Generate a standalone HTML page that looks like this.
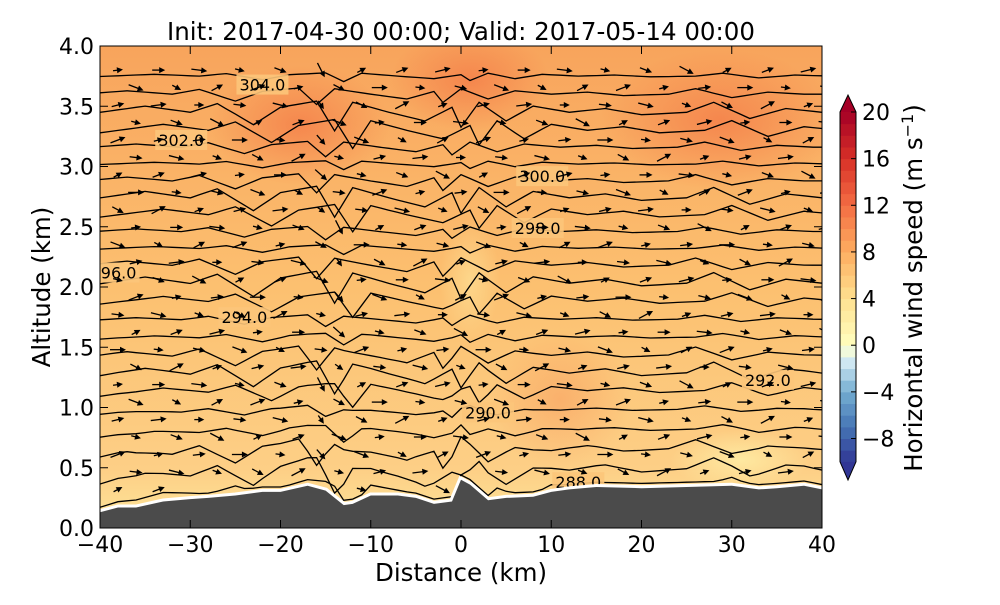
<!DOCTYPE html>
<html><head><meta charset="utf-8"><style>
body{margin:0;background:#fff;font-family:"Liberation Sans","DejaVu Sans",sans-serif}
svg text{font-family:"DejaVu Sans","Liberation Sans",sans-serif}
</style></head><body>
<svg id="c" width="1000" height="600" xmlns="http://www.w3.org/2000/svg">
<defs>
<clipPath id="pc"><rect x="100" y="46" width="722" height="482"/></clipPath>
<linearGradient id="bg" x1="0" y1="1" x2="0" y2="0">
<stop offset="0" stop-color="#fde69a"/><stop offset="0.12" stop-color="#fdcf86"/><stop offset="0.5" stop-color="#fcc070"/><stop offset="1" stop-color="#f8a45c"/>
</linearGradient>
<radialGradient id="blob"><stop offset="0" stop-color="#f4804a" stop-opacity="0.85"/><stop offset="1" stop-color="#f4804a" stop-opacity="0"/></radialGradient>
<radialGradient id="lblob"><stop offset="0" stop-color="#fef0a8" stop-opacity="0.8"/><stop offset="1" stop-color="#fef0a8" stop-opacity="0"/></radialGradient>
</defs>
<text x="461" y="40" font-size="24.5" text-anchor="middle">Init: 2017-04-30 00:00; Valid: 2017-05-14 00:00</text>
<g clip-path="url(#pc)" id="plot">
<rect x="100" y="46" width="722" height="482" fill="url(#bg)"/>
<ellipse cx="300" cy="125" rx="90" ry="60" fill="url(#blob)"/>
<ellipse cx="720" cy="120" rx="120" ry="70" fill="url(#blob)"/>
<ellipse cx="470" cy="80" rx="80" ry="50" fill="url(#blob)"/>
<ellipse cx="560" cy="400" rx="70" ry="70" fill="url(#blob)" opacity="0.4"/>
<ellipse cx="470" cy="280" rx="30" ry="60" fill="url(#lblob)" opacity="0.6"/>
<ellipse cx="740" cy="460" rx="70" ry="30" fill="url(#lblob)"/>
<g id="contours"></g><g id="arrows"></g><g id="terrain"></g>
</g>
<rect x="100" y="46" width="722" height="482" fill="none" stroke="#000" stroke-width="1"/>
<g id="axes"></g>
<g id="cbar"></g>
<text transform="translate(50,287) rotate(-90)" font-size="24.5" text-anchor="middle">Altitude (km)</text>
<text x="461" y="581" font-size="24.5" text-anchor="middle">Distance (km)</text>
<text transform="translate(922,288) rotate(-90)" font-size="24.5" text-anchor="middle">Horizontal wind speed (m s<tspan dy="-9" font-size="16">−1</tspan><tspan dy="9">)</tspan></text>
</svg>
<script>
const terrainX=[-40,-38,-36,-33,-30,-28,-25,-22,-20,-17,-15,-13,-12,-10,-7,-5,-3,-1,0,1,3,5,8,10,12,15,20,25,30,33,35,38,40];
const terrainH=[0.13,0.17,0.17,0.22,0.24,0.25,0.27,0.3,0.3,0.35,0.31,0.19,0.2,0.27,0.27,0.25,0.2,0.22,0.4,0.36,0.23,0.25,0.26,0.3,0.32,0.34,0.33,0.34,0.35,0.32,0.33,0.35,0.32];
const contourBase=[0.3,0.45,0.63,0.8,0.97,1.13,1.28,1.43,1.58,1.73,1.88,2.03,2.18,2.32,2.46,2.6,2.74,2.88,3.02,3.16,3.3,3.45,3.6,3.75];
const wiggleX=[-40,-35,-30,-27,-23,-20,-16,-14,-12,-8,-4,-1,0,2,5,8,12,16,20,25,28,32,36,40];
const wiggleH=[0,0.05,0.0,0.07,-0.1,0.04,0.09,-0.15,0.08,0.0,-0.07,0.04,-0.12,0.08,-0.07,0.05,0.0,0.03,-0.02,0.0,0.08,-0.05,0.03,0];
const labelText=["304.0","302.0","300.0","298.0","296.0","294.0","292.0","290.0","288.0"];
const labelX=[-22,-31,9,8.5,-38.5,-24,34,3,13];
const labelY=[3.68,3.22,2.92,2.49,2.12,1.75,1.23,0.96,0.38];
const cbLevels=[-10,-9,-8,-7,-6,-5,-4,-3,-2,-1,0,1,2,3,4,5,6,7,8,9,10,11,12,13,14,15,16,17,18,19];
const cbTicks=[-8,-4,0,4,8,12,16,20];
const xTicks=[-40,-30,-20,-10,0,10,20,30,40];
const yTicks=[0.0,0.5,1.0,1.5,2.0,2.5,3.0,3.5,4.0];
const NS="http://www.w3.org/2000/svg";
const X=v=>100+(v+40)*722/80, Y=v=>528-v*120.5;
function mk(t,a,p){const e=document.createElementNS(NS,t);for(const k in a)e.setAttribute(k,a[k]);p.appendChild(e);return e;}
function interp(xs,ys,x){for(let i=0;i<xs.length-1;i++)if(x<=xs[i+1]){const f=(x-xs[i])/(xs[i+1]-xs[i]);return ys[i]+f*(ys[i+1]-ys[i]);}return ys[ys.length-1];}
const cg=document.getElementById('contours');
contourBase.forEach((b,i)=>{let d='';
 for(let x=-40;x<=40;x+=1){const t=interp(terrainX,terrainH,x);const inf=Math.exp(-(b-0.25)/0.5);
  let h=b+interp(wiggleX,wiggleH,x+((i*7)%5-2))*(0.7+0.4*Math.sin(i*1.3))+inf*(t-0.27)*0.9;h=Math.max(h,t+0.04);
  d+=(d?'L':'M')+X(x).toFixed(1)+' '+Y(h).toFixed(1);}
 const p=mk('path',{d:d,fill:'none',stroke:'#000','stroke-width':1.3},cg);
 });
labelText.forEach((s,i)=>{const r=mk('rect',{x:X(labelX[i])-26,y:Y(labelY[i])-10,width:52,height:20,fill:'#fcc57a',opacity:0.9},cg);
 const t=mk('text',{x:X(labelX[i]),y:Y(labelY[i])+6,'font-size':16,'text-anchor':'middle'},cg);t.textContent=s;
 });
const ag=document.getElementById('arrows');
for(let j=0;j<25;j++){const h=0.32+j*0.145;for(let k=0;k<18;k++){const x=-38+k*4.5+(j%2)*2;const t=interp(terrainX,terrainH,x);if(h<t+0.08)continue;
 const ang=((k*37+j*23)%9-4)*7+(Math.abs(x+14)<3?35:0);const L=10+((k+j)%3)*3;
 const g=mk('g',{transform:`translate(${X(x).toFixed(1)},${Y(h).toFixed(1)}) rotate(${ang})`},ag);
 
 mk('line',{x1:-L/2,y1:0,x2:L/2-3,y2:0,stroke:'#000','stroke-width':1.3},g);
 mk('path',{d:`M${L/2} 0 L${L/2-6} -3 L${L/2-6} 3Z`,fill:'#000'},g);}}
const tg=document.getElementById('terrain');let td='M'+X(-40)+' 530';
terrainX.forEach((x,i)=>td+=' L'+X(x).toFixed(1)+' '+Y(terrainH[i]).toFixed(1));td+=' L'+X(40)+' 530Z';
mk('path',{d:td,fill:'#fff',stroke:'#fff','stroke-width':6},tg);
const tp=mk('path',{d:td,fill:'#4b4b4b'},tg);
const ax=document.getElementById('axes');
xTicks.forEach(v=>{mk('line',{x1:X(v),y1:528,x2:X(v),y2:520,stroke:'#000'},ax);mk('line',{x1:X(v),y1:46,x2:X(v),y2:54,stroke:'#000'},ax);
 const t=mk('text',{x:X(v),y:552,'font-size':22,'text-anchor':'middle'},ax);t.textContent=v<0?'−'+(-v):v;
 });
yTicks.forEach(v=>{mk('line',{x1:100,y1:Y(v),x2:108,y2:Y(v),stroke:'#000'},ax);mk('line',{x1:822,y1:Y(v),x2:814,y2:Y(v),stroke:'#000'},ax);
 const t=mk('text',{x:94,y:Y(v)+8,'font-size':22,'text-anchor':'end'},ax);t.textContent=v.toFixed(1);
 });
const stops=[[-10,[49,54,149]],[-7,[69,117,180]],[-4,[116,173,209]],[-1,[224,243,248]],[0,[255,255,191]],[4,[254,224,144]],[8,[253,174,97]],[12,[244,109,67]],[16,[215,48,39]],[20,[165,0,38]]];
function col(v){for(let i=0;i<stops.length-1;i++)if(v<=stops[i+1][0]){const f=(v-stops[i][0])/(stops[i+1][0]-stops[i][0]);return 'rgb('+stops[i][1].map((c,k)=>Math.round(c+f*(stops[i+1][1][k]-c))).join(',')+')';}return 'rgb(165,0,38)';}
const cb=document.getElementById('cbar');const CY=v=>438.5-(v+8)*(438.5-112)/28;
cbLevels.forEach(v=>{const r=mk('rect',{x:840,y:CY(v+1),width:16,height:CY(v)-CY(v+1)+0.5,fill:col(v+0.5)},cb);
 });
mk('path',{d:`M840 ${CY(20)} L848 95 L856 ${CY(20)}Z`,fill:col(20)},cb);
mk('path',{d:`M840 ${CY(-10)} L848 480 L856 ${CY(-10)}Z`,fill:col(-10)},cb);
mk('path',{d:`M840 ${CY(20)} L848 95 L856 ${CY(20)} L856 ${CY(-10)} L848 480 L840 ${CY(-10)}Z`,fill:'none',stroke:'#000'},cb);
cbTicks.forEach(v=>{mk('line',{x1:851,y1:CY(v),x2:856,y2:CY(v),stroke:'#000'},cb);
 const t=mk('text',{x:862,y:CY(v)+8,'font-size':22},cb);t.textContent=v<0?'−'+(-v):v;
 });
</script>
</body></html>
